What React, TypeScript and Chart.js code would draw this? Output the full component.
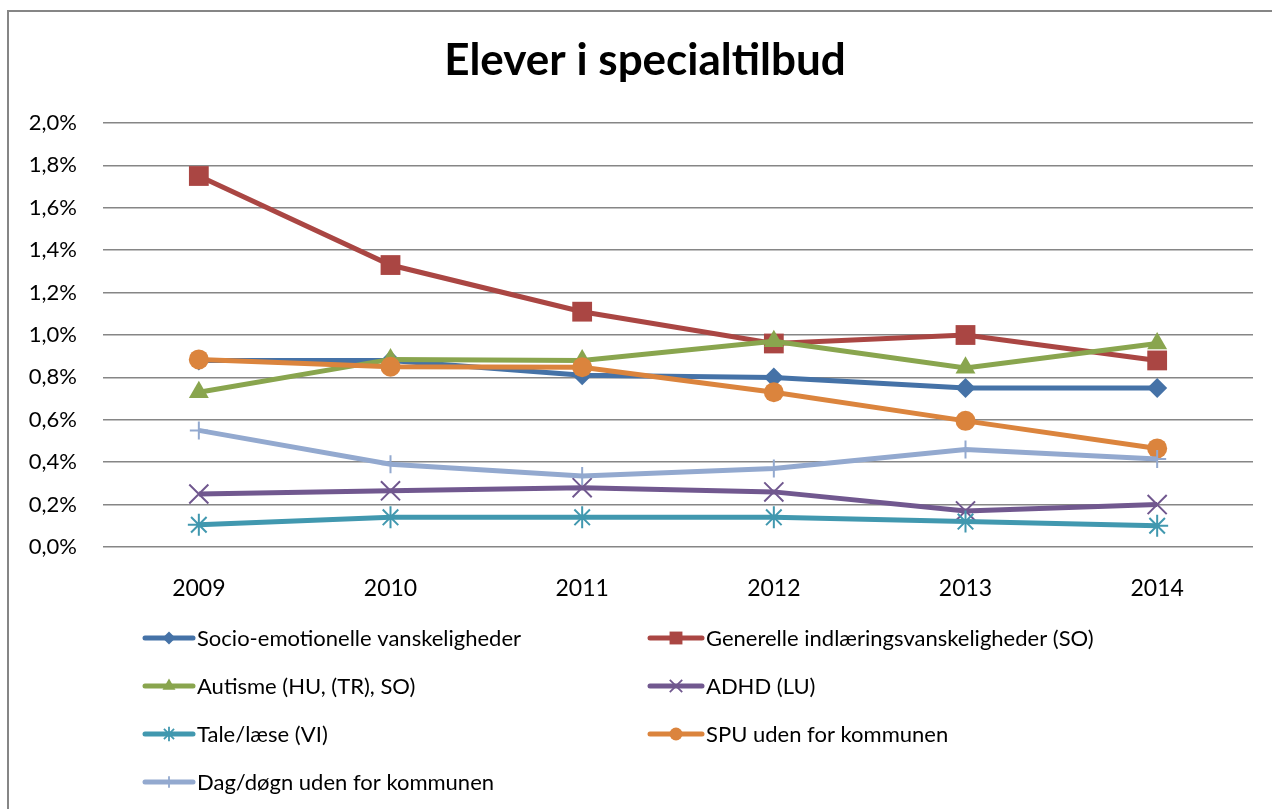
import React, { useEffect, useRef } from 'react';
import { Chart, registerables } from 'chart.js';

Chart.register(...registerables);

const years = ['2009', '2010', '2011', '2012', '2013', '2014'];
const seriesNames = [
  'Socio-emotionelle vanskeligheder',
  'Generelle indlæringsvanskeligheder (SO)',
  'Autisme (HU, (TR), SO)',
  'ADHD (LU)',
  'Tale/læse (VI)',
  'SPU uden for kommunen',
  'Dag/døgn uden for kommunen',
];
const socio = [0.88, 0.88, 0.81, 0.8, 0.75, 0.75];
const generelle = [1.75, 1.33, 1.11, 0.96, 1.0, 0.88];
const autisme = [0.73, 0.885, 0.88, 0.97, 0.845, 0.96];
const adhd = [0.25, 0.265, 0.28, 0.26, 0.17, 0.2];
const tale = [0.105, 0.14, 0.14, 0.14, 0.12, 0.1];
const spu = [0.885, 0.85, 0.848, 0.73, 0.595, 0.465];
const dag = [0.55, 0.39, 0.335, 0.37, 0.46, 0.415];
const yTickValues = [0, 0.2, 0.4, 0.6, 0.8, 1.0, 1.2, 1.4, 1.6, 1.8, 2.0];
const titleText = 'Elever i specialtilbud';

const colors = ['#4572A7', '#AA4643', '#89A54E', '#71588F', '#4198AF', '#DB843D', '#93A9CF'];
const pointStyles = ['rectRot', 'rect', 'triangle', 'crossRot', 'star', 'circle', 'cross'];
const pointRadii = [10, 14, 11.5, 13.5, 11, 10, 9];
const strokeOnly = [false, false, false, true, true, false, true];

function drawMarker(ctx: CanvasRenderingContext2D, style: string, x: number, y: number, r: number, color: string) {
  ctx.save();
  ctx.fillStyle = color;
  ctx.strokeStyle = color;
  ctx.lineWidth = 1.8;
  ctx.beginPath();
  const s2 = Math.SQRT1_2 * r;
  switch (style) {
    case 'rectRot':
      ctx.moveTo(x - r, y); ctx.lineTo(x, y - r); ctx.lineTo(x + r, y); ctx.lineTo(x, y + r); ctx.closePath(); ctx.fill();
      break;
    case 'rect':
      ctx.rect(x - s2, y - s2, 2 * s2, 2 * s2); ctx.fill();
      break;
    case 'triangle': {
      for (let k = 0; k < 3; k++) {
        const a = (k * 2 * Math.PI) / 3;
        const px = x + Math.sin(a) * r;
        const py = y - Math.cos(a) * r;
        if (k === 0) ctx.moveTo(px, py); else ctx.lineTo(px, py);
      }
      ctx.closePath(); ctx.fill();
      break;
    }
    case 'circle':
      ctx.arc(x, y, r, 0, Math.PI * 2); ctx.fill();
      break;
    case 'crossRot':
      ctx.moveTo(x - s2, y - s2); ctx.lineTo(x + s2, y + s2);
      ctx.moveTo(x - s2, y + s2); ctx.lineTo(x + s2, y - s2); ctx.stroke();
      break;
    case 'star':
      ctx.moveTo(x, y - r); ctx.lineTo(x, y + r);
      ctx.moveTo(x - s2, y - s2); ctx.lineTo(x + s2, y + s2);
      ctx.moveTo(x - s2, y + s2); ctx.lineTo(x + s2, y - s2); ctx.stroke();
      break;
    case 'cross':
      ctx.moveTo(x, y - r); ctx.lineTo(x, y + r);
      ctx.moveTo(x - r, y); ctx.lineTo(x + r, y); ctx.stroke();
      break;
  }
  ctx.restore();
}

const legendCols = [136, 641];
const legendLineLen = [48, 52];
const legendRows = [626, 674, 722, 770];

const customPlugin = {
  id: 'customTitleLegend',
  afterDraw(chart: any) {
    const ctx: CanvasRenderingContext2D = chart.ctx;
    ctx.save();
    ctx.fillStyle = '#000';
    ctx.font = 'bold 44px Lato';
    ctx.textAlign = 'center';
    ctx.textBaseline = 'alphabetic';
    ctx.fillText(titleText, 636, 63);

    ctx.font = '22px Lato';
    ctx.textAlign = 'left';
    chart.data.datasets.forEach((ds: any, i: number) => {
      const col = i % 2;
      const row = Math.floor(i / 2);
      const x0 = legendCols[col];
      const x1 = x0 + legendLineLen[col];
      const y = legendRows[row];
      ctx.save();
      ctx.strokeStyle = ds.borderColor;
      ctx.lineWidth = 5;
      ctx.lineCap = 'round';
      ctx.beginPath();
      ctx.moveTo(x0, y);
      ctx.lineTo(x1, y);
      ctx.stroke();
      ctx.restore();
      drawMarker(ctx, ds.pointStyle, (x0 + x1) / 2, y, ds.pointRadius * 0.65, ds.borderColor);
      ctx.fillStyle = '#000';
      ctx.fillText(ds.label, x1 + 4, y + 8);
    });
    ctx.restore();
  },
};

export default function App() {
  const ref = useRef<HTMLCanvasElement>(null);
  useEffect(() => {
    const values = [socio, generelle, autisme, adhd, tale, spu, dag];
    const datasets = seriesNames.map((name, i) => ({
      label: name,
      data: values[i],
      borderColor: colors[i],
      backgroundColor: colors[i],
      pointBackgroundColor: colors[i],
      pointBorderColor: colors[i],
      pointStyle: pointStyles[i],
      pointRadius: pointRadii[i],
      pointBorderWidth: strokeOnly[i] ? 2 : 0,
      borderWidth: 5,
      tension: 0,
      order: 10 - i,
    }));
    const chart = new Chart(ref.current as HTMLCanvasElement, {
      type: 'line',
      data: { labels: years, datasets },
      options: {
        responsive: false,
        animation: false,
        layout: { padding: { left: 0, right: 19, top: 111, bottom: 212 } },
        plugins: { legend: { display: false }, title: { display: false }, tooltip: { enabled: false } },
        scales: {
          x: {
            offset: true,
            grid: { display: false },
            border: { display: false },
            ticks: { color: '#000', font: { family: 'Lato', size: 23 }, padding: 20 },
            afterFit: (s: any) => { s.height = 50; },
          },
          y: {
            min: 0,
            max: 2,
            afterBuildTicks: (s: any) => { s.ticks = yTickValues.map((v) => ({ value: v })); },
            grid: { color: '#868686', lineWidth: 1.5, drawTicks: false },
            border: { display: false },
            ticks: {
              color: '#000',
              font: { family: 'Lato', size: 22 },
              padding: 26,
              callback: (v: any) => Number(v).toFixed(1).replace('.', ',') + '%',
            },
            afterFit: (s: any) => { s.width = 94; },
          },
        },
      },
      plugins: [customPlugin],
    });
    return () => chart.destroy();
  }, []);
  return (
    <div
      style={{
        position: 'fixed',
        left: 7,
        top: 10,
        width: 1300,
        height: 830,
        borderLeft: '2px solid #868686',
        borderTop: '2px solid #868686',
        background: '#fff',
      }}
    >
      <canvas ref={ref} width={1263} height={797} style={{ display: 'block' }} />
    </div>
  );
}
